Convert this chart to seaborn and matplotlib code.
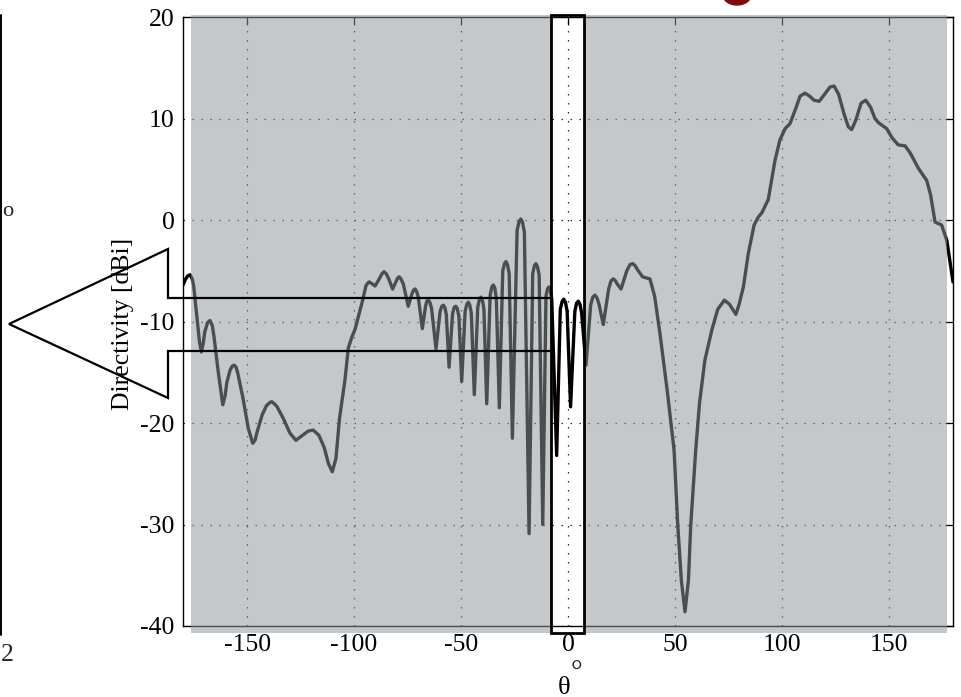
import numpy as np
import pandas as pd
import matplotlib
matplotlib.use("Agg")
import matplotlib.pyplot as plt
import matplotlib.patches as mpatches
from matplotlib.lines import Line2D
import seaborn as sns

# radiation pattern (deg, dBi)
theta = [-180.0, -179.0, -177.8, -176.7, -175.7, -175.0, -173.5, -172.3, -171.4, -170.6,
         -169.8, -168.5, -167.4, -166.3, -165.5, -163.5, -161.4, -160.3, -159.5, -158.0,
         -157.0, -156.1, -155.2, -154.5, -152.0, -149.5, -147.4, -146.3, -145.5, -143.0,
         -141.0, -139.5, -138.5, -137.3, -136.0, -133.0, -130.0, -127.2, -124.0, -121.5,
         -119.1, -116.5, -114.0, -112.0, -110.2, -108.5, -106.8, -104.3, -102.7, -101.0,
         -99.6, -98.0, -96.0, -94.5, -93.6, -92.9, -91.5, -90.2, -88.5, -87.0,
         -86.0, -85.0, -84.0, -82.0, -80.5, -79.6, -78.9, -78.1, -77.0, -74.7,
         -73.0, -72.2, -71.5, -70.8, -70.0, -68.1, -66.6, -66.0, -65.3, -64.6,
         -63.8, -61.7, -59.8, -59.0, -58.3, -57.6, -56.9, -55.6, -54.0, -53.2,
         -52.5, -51.8, -51.0, -49.7, -48.1, -47.3, -46.6, -45.9, -45.2, -43.8,
         -42.2, -41.4, -40.7, -40.0, -39.3, -38.0, -36.4, -35.6, -34.9, -34.2,
         -33.5, -32.1, -30.5, -29.7, -29.0, -28.3, -27.5, -26.0, -23.8, -22.9,
         -22.1, -21.3, -20.4, -18.2, -16.5, -15.7, -15.0, -14.3, -13.5, -11.8,
         -10.3, -9.6, -9.0, -8.3, -7.6, -5.3, -3.6, -2.7, -2.0, -1.2,
         -0.4, 1.2, 3.2, 4.0, 4.8, 5.6, 6.4, 8.4, 10.6, 11.6,
         12.6, 13.6, 14.5, 16.5, 19.0, 20.1, 21.2, 22.2, 23.0, 24.8,
         27.5, 29.0, 30.2, 31.4, 32.5, 34.9, 36.5, 38.3, 40.5, 43.0,
         46.5, 49.6, 51.3, 53.0, 54.7, 56.3, 57.4, 59.7, 61.5, 64.0,
         67.3, 70.0, 73.1, 75.5, 78.5, 80.0, 82.0, 84.3, 87.0, 89.0,
         90.6, 93.6, 96.8, 99.1, 101.5, 103.8, 106.5, 108.5, 110.8, 113.0,
         115.0, 117.5, 120.0, 122.5, 124.4, 126.5, 129.0, 131.0, 132.6, 134.5,
         137.0, 139.2, 141.5, 143.5, 145.1, 149.0, 151.5, 154.4, 157.6, 160.0,
         163.8, 167.7, 169.5, 171.6, 174.7, 177.1, 180.0]
directivity = [-6.4, -5.9, -5.5, -5.4, -5.8, -6.5, -9.5, -12.0, -13.0, -12.2,
               -11.0, -10.1, -9.9, -10.4, -11.5, -15.0, -18.2, -17.3, -16.0, -14.8,
               -14.4, -14.3, -14.5, -15.0, -17.5, -20.5, -22.0, -21.7, -21.0, -19.2,
               -18.3, -18.0, -17.9, -18.1, -18.4, -19.6, -21.0, -21.7, -21.2, -20.8,
               -20.7, -21.2, -22.4, -24.0, -24.8, -23.5, -19.5, -15.8, -12.6, -11.5,
               -10.8, -9.5, -7.9, -6.5, -6.2, -6.1, -6.3, -6.5, -5.9, -5.3,
               -5.1, -5.3, -5.7, -6.8, -6.1, -5.7, -5.6, -5.8, -6.3, -8.5,
               -7.3, -6.9, -6.8, -7.0, -7.6, -10.7, -8.5, -8.0, -7.9, -8.1,
               -8.7, -12.7, -9.0, -8.5, -8.4, -8.6, -9.3, -14.5, -9.3, -8.6,
               -8.5, -8.7, -9.5, -15.9, -9.0, -8.3, -8.1, -8.4, -9.2, -17.2,
               -8.6, -7.8, -7.6, -7.9, -8.8, -18.1, -7.4, -6.6, -6.4, -6.7,
               -7.8, -18.5, -5.0, -4.3, -4.1, -4.4, -5.3, -21.5, -1.0, -0.2,
               0.1, -0.2, -1.2, -30.9, -5.3, -4.5, -4.3, -4.6, -5.4, -30.0,
               -7.5, -6.8, -6.6, -6.9, -7.8, -23.2, -8.8, -8.0, -7.8, -8.1,
               -9.0, -18.4, -9.0, -8.2, -8.0, -8.3, -9.2, -14.3, -8.4, -7.6,
               -7.4, -7.7, -8.3, -10.3, -6.8, -6.0, -5.8, -6.0, -6.3, -6.8,
               -5.0, -4.4, -4.3, -4.5, -4.9, -5.6, -5.7, -5.8, -7.5, -11.2,
               -17.0, -22.7, -30.0, -35.5, -38.6, -35.5, -30.0, -22.7, -18.0, -13.8,
               -10.8, -8.8, -7.9, -8.3, -9.3, -8.3, -6.6, -3.3, -0.5, 0.3,
               0.7, 2.0, 5.9, 7.9, 9.0, 9.5, 11.0, 12.2, 12.5, 12.2,
               11.8, 11.7, 12.4, 13.1, 13.2, 12.4, 10.5, 9.2, 8.9, 9.8,
               11.5, 11.8, 11.1, 10.0, 9.6, 9.0, 8.1, 7.4, 7.3, 6.6,
               5.1, 3.9, 2.5, -0.2, -0.5, -2.0, -6.1]

x_ticks = [-150, -100, -50, 0, 50, 100, 150]
y_ticks = [-40, -30, -20, -10, 0, 10, 20]

sns.set_theme(style="white")
plt.rcParams["font.family"] = ["Liberation Serif", "DejaVu Serif"]
plt.rcParams["axes.unicode_minus"] = False

W, H = 961, 697
fig = plt.figure(figsize=(W / 100, H / 100), dpi=100)
ax = fig.add_axes([183 / W, 1 - 626 / H, 770 / W, 609 / H])
ax.set_facecolor("white")

df = pd.DataFrame({"theta": theta, "D": directivity})
sns.lineplot(data=df, x="theta", y="D", ax=ax, color="black", linewidth=2.4,
             sort=False, zorder=3)

ax.set_xlim(-180, 180)
ax.set_ylim(-40, 20)
ax.set_xticks(x_ticks)
ax.set_yticks(y_ticks)
ax.grid(True, color="#2a2a2a", lw=0.9, linestyle=(0, (1.2, 6)))
ax.tick_params(direction="in", length=6, width=0.9, colors="black", labelsize=18.5,
               top=True, right=True, pad=6)
for s in ax.spines.values():
    s.set_color("black")
    s.set_linewidth(1.0)

ax.set_ylabel("Directivity [dBi]", fontsize=18.5, color="black")
ax.yaxis.set_label_coords(-0.063, 0.496)
ax.set_xlabel("θ", fontsize=19, color="black")
ax.xaxis.set_label_coords(0.495, -0.083)
ax.text(0.5115, -0.058, "°", transform=ax.transAxes, fontsize=21, ha="center", va="top")

# translucent grey panel, left open around the boresight strip
tr = ax.get_xaxis_transform()
shade = (142 / 255, 150 / 255, 156 / 255)
strip_lo, strip_hi = -7.9, 7.5
for x0, x1 in [(-176.3, strip_lo), (strip_hi, 177.2)]:
    ax.add_patch(mpatches.Rectangle((x0, -0.0115), x1 - x0, 1.0148, transform=tr,
                                    facecolor=shade, alpha=0.52, lw=0,
                                    clip_on=False, zorder=4))
ax.add_patch(mpatches.Rectangle((strip_lo, -0.0115), strip_hi - strip_lo, 1.0148,
                                transform=tr, fill=False, ec="black", lw=2.0,
                                clip_on=False, zorder=6))


def px(x, y):
    return x / W, 1 - y / H


# big outline arrow pointing left (figure pixels)
arrow_px = [(551, 298), (168, 298), (168, 249), (9, 324), (168, 398), (168, 351), (551, 351)]
pts = [px(*p) for p in arrow_px]
fig.add_artist(Line2D([p[0] for p in pts], [p[1] for p in pts],
                      transform=fig.transFigure, color="black", lw=1.6,
                      solid_joinstyle="miter"))

# bits of the neighbouring figure at the edges
fig.add_artist(Line2D([1 / W, 1 / W], [1 - 15 / H, 1 - 635 / H],
                      transform=fig.transFigure, color="black", lw=1.4))
fig.text(1 / W, 1 - 655 / H, "2", fontsize=18.5, ha="left", va="center")
fig.text(2 / W, 1 - 211 / H, "o", fontsize=16, ha="left", va="center")
fig.add_artist(mpatches.Ellipse(px(737, -5), 28 / W, 20 / H, transform=fig.transFigure,
                                color="#7d0c0c"))

fig.savefig("out.png", dpi=100)
